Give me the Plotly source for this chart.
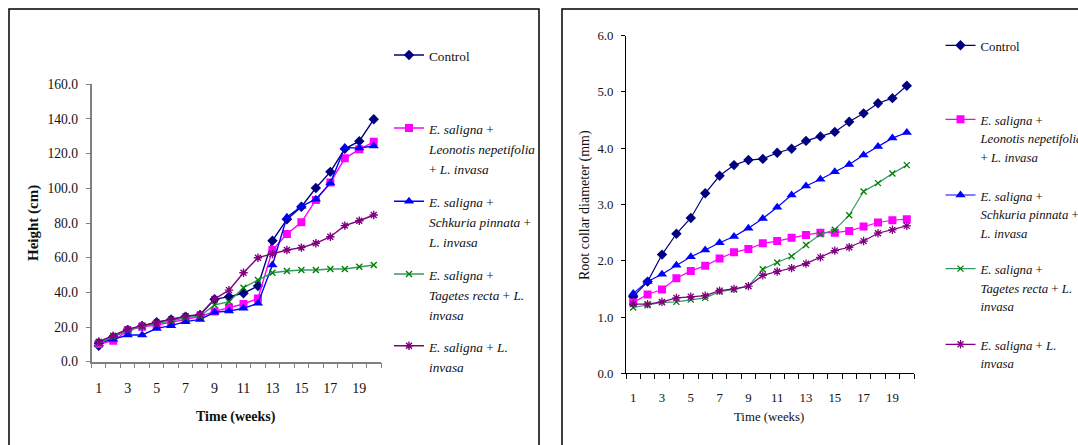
import plotly.graph_objects as go

W, H = 1078, 445

weeks = list(range(1, 21))
week_ticks = [1, 3, 5, 7, 9, 11, 13, 15, 17, 19]

# Height (cm)
height_control = [9.2, 14.2, 18.3, 20.6, 22.8, 24.4, 26.0, 27.0, 36.0, 37.5, 39.5, 43.7, 69.8, 82.1, 89.4, 100.2, 109.5, 122.8, 127.2, 139.8]
height_leonotis = [10.2, 12.1, 17.9, 20.2, 21.2, 22.7, 24.4, 26.0, 29.0, 31.2, 33.3, 36.5, 64.4, 73.7, 80.4, 93.3, 103.3, 117.3, 122.5, 126.8]
height_schkuria = [11.5, 12.9, 15.4, 15.4, 19.2, 20.8, 23.1, 24.4, 28.5, 29.2, 30.8, 33.7, 55.8, 83.3, 89.6, 93.7, 103.0, 123.5, 123.2, 124.4]
height_tagetes = [10.6, 14.4, 18.3, 20.2, 22.1, 23.5, 25.4, 26.3, 32.7, 34.6, 42.7, 47.1, 51.3, 52.3, 52.9, 52.9, 53.5, 53.5, 54.8, 55.8]
height_invasa = [11.5, 15.0, 18.8, 20.8, 22.5, 24.4, 26.3, 27.3, 36.2, 41.3, 51.3, 60.0, 62.1, 64.4, 65.8, 68.3, 72.1, 78.5, 81.3, 84.6]

# Root collar diameter (mm)
diam_control = [1.36, 1.63, 2.11, 2.48, 2.76, 3.20, 3.51, 3.70, 3.79, 3.81, 3.92, 3.99, 4.13, 4.21, 4.29, 4.47, 4.62, 4.80, 4.89, 5.11]
diam_leonotis = [1.26, 1.40, 1.49, 1.69, 1.82, 1.91, 2.04, 2.15, 2.21, 2.31, 2.35, 2.41, 2.46, 2.50, 2.50, 2.53, 2.61, 2.68, 2.72, 2.74]
diam_schkuria = [1.42, 1.63, 1.76, 1.92, 2.07, 2.19, 2.32, 2.43, 2.58, 2.75, 2.95, 3.17, 3.33, 3.45, 3.58, 3.71, 3.88, 4.03, 4.18, 4.28]
diam_tagetes = [1.17, 1.21, 1.26, 1.27, 1.31, 1.34, 1.45, 1.49, 1.55, 1.85, 1.97, 2.08, 2.28, 2.47, 2.55, 2.81, 3.23, 3.38, 3.55, 3.70]
diam_invasa = [1.23, 1.23, 1.27, 1.34, 1.36, 1.38, 1.47, 1.50, 1.55, 1.74, 1.81, 1.87, 1.95, 2.06, 2.18, 2.24, 2.35, 2.49, 2.55, 2.62]

# Legend label lines
label_lines = [
    ["Control"],
    ["<i>E. saligna</i> +", "<i>Leonotis nepetifolia</i>", "+ <i>L. invasa</i>"],
    ["<i>E. saligna</i> +", "<i>Schkuria pinnata</i> +", "<i>L. invasa</i>"],
    ["<i>E. saligna</i> +", "<i>Tagetes recta</i> + <i>L.</i>", "<i>invasa</i>"],
    ["<i>E. saligna</i> + <i>L.</i>", "<i>invasa</i>"],
]

line_colors = ["#000080", "#FF00FF", "#0000FF", "#339966", "#800080"]
marker_colors = ["#000080", "#FF00FF", "#0000FF", "#008000", "#800080"]
symbols = ["diamond", "square", "triangle-up", "x-thin-open", "asterisk-open"]
marker_sizes = [8, 8, 9, 6, 7]

FONT = "Liberation Serif"


def label_html(lines, size):
    return "<br>".join(
        f'<span style="font-family:\'Liberation Serif\', serif;font-size:{size}px">{ln}</span>'
        for ln in lines)


fig = go.Figure()

height_series = [height_control, height_leonotis, height_schkuria, height_tagetes, height_invasa]
diam_series = [diam_control, diam_leonotis, diam_schkuria, diam_tagetes, diam_invasa]

for i, ys in enumerate(height_series):
    fig.add_trace(go.Scatter(
        x=weeks, y=ys, mode="lines+markers",
        name=label_html(label_lines[i], 13.3),
        line=dict(color=line_colors[i], width=1.4),
        marker=dict(symbol=symbols[i], size=marker_sizes[i], color=marker_colors[i],
                    line=dict(width=1.4 if i >= 3 else 0, color=marker_colors[i])),
        xaxis="x", yaxis="y",
        legend="legend" if i == 0 else f"legend{i + 1}",
    ))

for i, ys in enumerate(diam_series):
    fig.add_trace(go.Scatter(
        x=weeks, y=ys, mode="lines+markers",
        name=label_html(label_lines[i], 12.8),
        line=dict(color=line_colors[i], width=1.2),
        marker=dict(symbol=symbols[i], size=marker_sizes[i], color=marker_colors[i],
                    line=dict(width=1.3 if i >= 3 else 0, color=marker_colors[i])),
        xaxis="x2", yaxis="y2",
        legend=f"legend{i + 6}",
    ))

left_centers = [56, 129, 202.3, 275, 346.7]
right_centers = [46, 120, 195.7, 269.3, 345]
legend_layout = {}
for i, c in enumerate(left_centers):
    key = "legend" if i == 0 else f"legend{i + 1}"
    legend_layout[key] = dict(
        x=389 / W, xanchor="left", y=1 - (c - 17.5) / H, yanchor="top",
        bgcolor="rgba(0,0,0,0)", borderwidth=0, valign="top",
        font=dict(family=FONT, size=15.4, color="#111"), itemwidth=30,
    )
for i, c in enumerate(right_centers):
    key = f"legend{i + 6}"
    legend_layout[key] = dict(
        x=940.5 / W, xanchor="left", y=1 - (c - 16.5) / H, yanchor="top",
        bgcolor="rgba(0,0,0,0)", borderwidth=0, valign="top",
        font=dict(family=FONT, size=14.3, color="#111"), itemwidth=30,
    )

left_axis_color = "#808080"
fig.update_layout(
    width=W, height=H,
    margin=dict(l=0, r=0, t=0, b=0, autoexpand=False),
    paper_bgcolor="white", plot_bgcolor="white",
    showlegend=True,
    font=dict(family=FONT, color="#111"),
    xaxis=dict(
        domain=[91.5 / W, 381 / W], range=[0.5, 20.5],
        tickmode="array", tickvals=week_ticks, ticktext=[str(t) for t in week_ticks],
        ticks="", ticklabelstandoff=13,
        tickfont=dict(family=FONT, size=14, color="#111"),
        showline=True, linecolor=left_axis_color, linewidth=1.5,
        showgrid=False, zeroline=False, anchor="y",
        minor=dict(tick0=0.5, dtick=1, ticks="outside", ticklen=5,
                   tickcolor=left_axis_color, tickwidth=1.3, showgrid=False),
    ),
    yaxis=dict(
        domain=[1 - 361.7 / H, 1 - 84.3 / H], range=[0, 160],
        tickmode="linear", tick0=0, dtick=20, tickformat=".1f",
        ticks="outside", ticklen=4, tickcolor=left_axis_color, tickwidth=1.3,
        ticklabelstandoff=5,
        tickfont=dict(family=FONT, size=13.6, color="#111"),
        showline=True, linecolor=left_axis_color, linewidth=1.5,
        showgrid=False, zeroline=False, anchor="x",
    ),
    xaxis2=dict(
        domain=[626 / W, 914 / W], range=[0.5, 20.5],
        tickmode="array", tickvals=week_ticks, ticktext=[str(t) for t in week_ticks],
        ticks="", ticklabelstandoff=12,
        tickfont=dict(family=FONT, size=12.8, color="#111"),
        showline=True, linecolor="#000", linewidth=1,
        showgrid=False, zeroline=False, anchor="y2",
        minor=dict(tick0=0.5, dtick=1, ticks="outside", ticklen=5,
                   tickcolor="#000", tickwidth=1, showgrid=False),
    ),
    yaxis2=dict(
        domain=[1 - 373.3 / H, 1 - 35.7 / H], range=[0, 6],
        tickmode="linear", tick0=0, dtick=1, tickformat=".1f",
        ticks="outside", ticklen=4, tickcolor="#000", tickwidth=1,
        ticklabelstandoff=5,
        tickfont=dict(family=FONT, size=12.8, color="#111"),
        showline=True, linecolor="#000", linewidth=1,
        showgrid=False, zeroline=False, anchor="x2",
    ),
    **legend_layout,
)

# Axis titles
fig.add_annotation(text="<b>Height (cm)</b>", x=33 / W, y=1 - 223 / H, xref="paper", yref="paper",
                   textangle=-90, showarrow=False, xanchor="center", yanchor="middle",
                   font=dict(family=FONT, size=15, color="#111"))
fig.add_annotation(text="<b>Time (weeks)</b>", x=236 / W, y=1 - 417.3 / H, xref="paper", yref="paper",
                   showarrow=False, xanchor="center", yanchor="middle",
                   font=dict(family=FONT, size=14, color="#111"))
fig.add_annotation(text="Root collar diameter (mm)", x=585 / W, y=1 - 205 / H, xref="paper", yref="paper",
                   textangle=-90, showarrow=False, xanchor="center", yanchor="middle",
                   font=dict(family=FONT, size=14, color="#111"))
fig.add_annotation(text="Time (weeks)", x=769.3 / W, y=1 - 417.3 / H, xref="paper", yref="paper",
                   showarrow=False, xanchor="center", yanchor="middle",
                   font=dict(family=FONT, size=12.8, color="#111"))

# Panel borders
fig.add_shape(type="rect", xref="paper", yref="paper",
              x0=9 / W, x1=539 / W, y0=-0.1, y1=1 - 9 / H,
              line=dict(color="#000", width=1.5), fillcolor="rgba(0,0,0,0)", layer="below")
fig.add_shape(type="rect", xref="paper", yref="paper",
              x0=562 / W, x1=1.1, y0=-0.1, y1=1 - 9 / H,
              line=dict(color="#000", width=1.5), fillcolor="rgba(0,0,0,0)", layer="below")

fig.write_html("out.html")
